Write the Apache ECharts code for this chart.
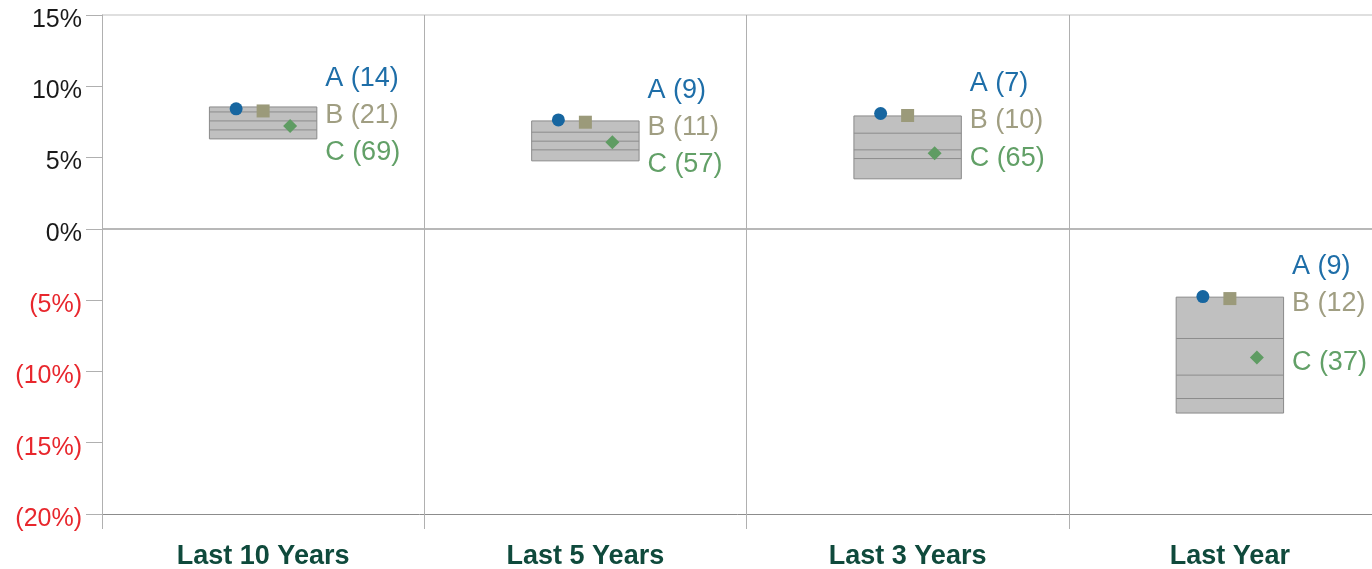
<!DOCTYPE html>
<html>
<head>
<meta charset="utf-8">
<script src="https://cdn.jsdelivr.net/npm/echarts@6/dist/echarts.min.js"></script>
<style>
  html, body { margin: 0; padding: 0; background: #fff; }
  #chart { width: 1372px; height: 569px; }
</style>
</head>
<body>
<div id="chart"></div>
<script>
var categories = ['Last 10 Years', 'Last 5 Years', 'Last 3 Years', 'Last Year'];
// box edges and inner lines (%)
var boxTop    = [8.55, 7.57, 7.92, -4.79];
var boxLine1  = [8.20, 6.78, 6.71, -7.69];
var boxLine2  = [7.57, 6.15, 5.54, -10.26];
var boxLine3  = [6.94, 5.54, 4.93, -11.90];
var boxBottom = [6.31, 4.77, 3.51, -12.92];
// markers (%)
var valuesA = [8.42, 7.64, 8.09, -4.75];
var valuesB = [8.27, 7.48, 7.95, -4.89];
var valuesC = [7.22, 6.08, 5.31, -9.03];
// counts shown in the labels
var countA = [14, 9, 7, 9];
var countB = [21, 11, 10, 12];
var countC = [69, 57, 65, 37];
var yTicks = [-20, -15, -10, -5, 0, 5, 10, 15];

var colA = '#1766a0', colB = '#9b9a7a', colC = '#5f9c63';
var labA = '#1e6ea8', labB = '#a09e82', labC = '#62a067';

var myChart = echarts.init(document.getElementById('chart'));

var boxData = categories.map(function (c, i) {
  return [i, boxTop[i], boxLine1[i], boxLine2[i], boxLine3[i], boxBottom[i]];
});
var labelData = categories.map(function (c, i) {
  return [i, valuesA[i], valuesB[i], valuesC[i], countA[i], countB[i], countC[i]];
});

function renderBox(params, api) {
  var x = api.value(0);
  var w = api.size([1, 0])[0] / 3;
  var top = api.coord([x, api.value(1)]);
  var bot = api.coord([x, api.value(5)]);
  var left = top[0] - w / 2;
  var children = [{
    type: 'rect',
    shape: { x: left, y: top[1], width: w, height: bot[1] - top[1] },
    style: { fill: '#c0c0c0', stroke: '#8a8a8a', lineWidth: 1 }
  }];
  for (var k = 2; k <= 4; k++) {
    var p = api.coord([x, api.value(k)]);
    children.push({
      type: 'line',
      shape: { x1: left, y1: p[1], x2: left + w, y2: p[1] },
      style: { stroke: '#8c8c8c', lineWidth: 1 }
    });
  }
  return { type: 'group', children: children };
}

function renderLabels(params, api) {
  var x = api.value(0);
  var a = api.value(1), b = api.value(2), c = api.value(3);
  var pxB = api.coord([x, b]);
  var pxA = api.coord([x, a]);
  var pxC = api.coord([x, c]);
  var gap = 37;
  var yB = pxB[1] + 5;
  var yA = Math.min(pxA[1] + 5, yB - gap);
  var yC = Math.max(pxC[1] + 5, yB + gap);
  var lx = pxB[0] + 62;
  function txt(t, y, col) {
    return {
      type: 'text',
      style: {
        text: t, x: lx, y: y, fill: col,
        font: '27px "Liberation Sans", Arial, sans-serif',
        textAlign: 'left', textVerticalAlign: 'middle'
      }
    };
  }
  return {
    type: 'group',
    children: [
      txt('A (' + api.value(4) + ')', yA, labA),
      txt('B (' + api.value(5) + ')', yB, labB),
      txt('C (' + api.value(6) + ')', yC, labC)
    ]
  };
}

var option = {
  backgroundColor: '#fff',
  animation: false,
  grid: { left: 102, top: 15, bottom: 55, width: 1289, outerBoundsMode: 'none', containLabel: false },
  xAxis: {
    type: 'category',
    data: categories,
    boundaryGap: true,
    axisLine: { onZero: false, lineStyle: { color: '#8c8c8c', width: 1 } },
    axisTick: { show: true, inside: false, length: 15, interval: 0, alignWithLabel: false, lineStyle: { color: '#b0b0b0', width: 1 } },
    splitLine: { show: true, interval: 0, lineStyle: { color: '#b0b0b0', width: 1 } },
    axisLabel: {
      interval: 0, margin: 29, color: '#0f4a3c', fontWeight: 'bold',
      fontSize: 27, fontFamily: '"Liberation Sans", Arial, sans-serif'
    }
  },
  yAxis: {
    type: 'value',
    min: yTicks[0], max: yTicks[yTicks.length - 1], interval: 5,
    axisLine: { show: true, lineStyle: { color: '#b0b0b0' } },
    axisTick: { show: true, length: 16, lineStyle: { color: '#b0b0b0' } },
    splitLine: {
      show: true,
      lineStyle: {
        color: yTicks.map(function (v) {
          if (v === 0) return '#a0a0a0';
          if (v === 15) return '#d4d4d4';
          return 'rgba(0,0,0,0)';
        }),
        width: 1.5
      }
    },
    axisLabel: {
      margin: 20,
      formatter: function (v) {
        return v < 0 ? '{neg|(' + (-v) + '%)}' : '{pos|' + v + '%}';
      },
      rich: {
        pos: {
          color: '#1a1a1a', fontSize: 25, padding: [10, 0, 0, 0],
          fontFamily: '"Liberation Sans", Arial, sans-serif'
        },
        neg: {
          color: '#e8272d', fontSize: 25, padding: [10, 0, 0, 0],
          fontFamily: '"Liberation Sans", Arial, sans-serif'
        }
      }
    }
  },
  series: [
    {
      type: 'custom', name: 'box', renderItem: renderBox, data: boxData,
      encode: { x: 0, y: [1, 5] }, z: 2
    },
    {
      type: 'scatter', name: 'A', data: valuesA, symbol: 'circle', symbolSize: 13,
      symbolOffset: [-27, 0], itemStyle: { color: colA, opacity: 1 }, z: 5
    },
    {
      type: 'scatter', name: 'B', data: valuesB, symbol: 'rect', symbolSize: 13,
      symbolOffset: [0, 0], itemStyle: { color: colB, opacity: 1 }, z: 5
    },
    {
      type: 'scatter', name: 'C', data: valuesC, symbol: 'diamond', symbolSize: 14,
      symbolOffset: [27, 0], itemStyle: { color: colC, opacity: 1 }, z: 5
    },
    {
      type: 'custom', name: 'labels', renderItem: renderLabels, data: labelData,
      encode: { x: 0, y: [1, 2, 3] }, z: 6
    }
  ]
};

myChart.setOption(option);
window.addEventListener('resize', function () {
  myChart.resize();
});
</script>
</body>
</html>
